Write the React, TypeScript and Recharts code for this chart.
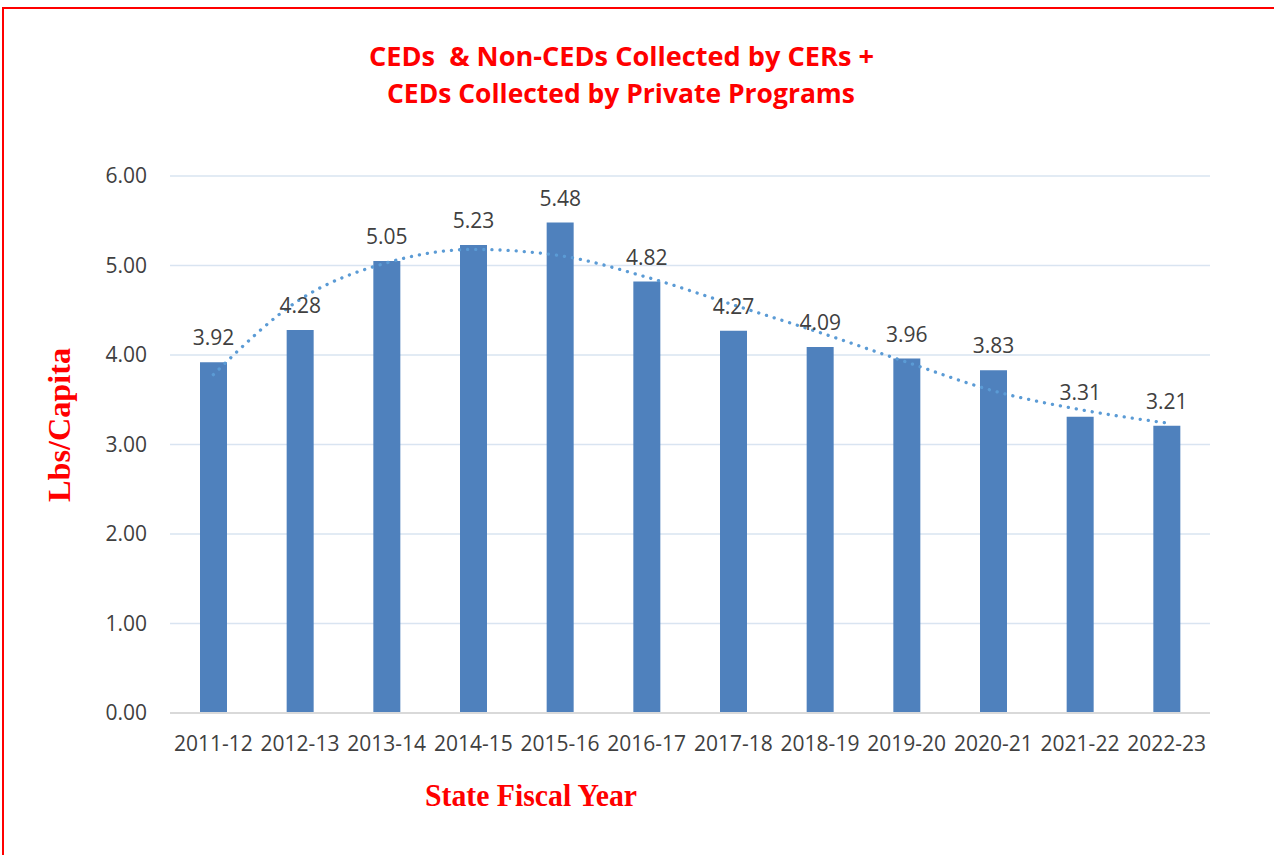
import React from 'react';
import { ComposedChart, Bar, Line, XAxis, YAxis, CartesianGrid, LabelList } from 'recharts';

const years = ['2011-12', '2012-13', '2013-14', '2014-15', '2015-16', '2016-17', '2017-18', '2018-19', '2019-20', '2020-21', '2021-22', '2022-23'];
const lbsPerCapita = [3.92, 4.28, 5.05, 5.23, 5.48, 4.82, 4.27, 4.09, 3.96, 3.83, 3.31, 3.21];
const trendValues = [3.78, 4.62, 5.03, 5.18, 5.11, 4.87, 4.56, 4.25, 3.92, 3.6, 3.39, 3.24];
const yTicks = [0, 1, 2, 3, 4, 5, 6];

const data = years.map((y, i) => ({ year: y, value: lbsPerCapita[i], trend: trendValues[i] }));

const tickFont = { fontFamily: '"Open Sans", sans-serif', fontSize: 21, fill: '#404040' };

export default function App() {
  return (
    <div style={{ position: 'fixed', left: 0, top: 0, width: 1274, height: 855, overflow: 'hidden', background: '#fff' }}>
      <div style={{ position: 'absolute', left: 2, top: 7, width: 1320, height: 920, border: '2px solid #FF0000', boxSizing: 'border-box' }} />
      <div style={{ position: 'absolute', left: 0, top: 0 }}>
        <ComposedChart width={1274} height={855} data={data} margin={{ top: 176, right: 64, bottom: 102, left: 110 }}>
          <CartesianGrid vertical={false} stroke="#D9E4F1" strokeWidth={1.5} />
          <XAxis
            dataKey="year"
            interval={0}
            tickLine={false}
            tickSize={0}
            tickMargin={23}
            height={40}
            axisLine={{ stroke: '#D9D9D9', strokeWidth: 2 }}
            tick={tickFont}
          />
          <YAxis
            domain={[0, 6]}
            ticks={yTicks}
            width={60}
            axisLine={false}
            tickLine={false}
            tickSize={0}
            tickMargin={23}
            tick={tickFont}
            tickFormatter={(v: number) => v.toFixed(2)}
          />
          <Bar dataKey="value" fill="#4F81BD" barSize={27} isAnimationActive={false}>
            <LabelList
              dataKey="value"
              position="top"
              offset={17}
              formatter={(v: number) => v.toFixed(2)}
              style={{ fontFamily: '"Open Sans", sans-serif', fontSize: 21, fill: '#404040' }}
            />
          </Bar>
          <Line
            dataKey="trend"
            type="monotone"
            stroke="#5B9BD5"
            strokeWidth={3.3}
            strokeDasharray="0.1 8"
            strokeLinecap="round"
            dot={false}
            activeDot={false}
            isAnimationActive={false}
          />
        </ComposedChart>
      </div>
      <svg width={1274} height={855} style={{ position: 'absolute', left: 0, top: 0, pointerEvents: 'none' }}>
        <text x={369} y={66} fill="#FF0000" fontFamily='"Open Sans", sans-serif' fontWeight="bold" fontSize={27} textLength={505} lengthAdjust="spacingAndGlyphs" style={{ whiteSpace: 'pre' }}>
          CEDs  &amp; Non-CEDs Collected by CERs +
        </text>
        <text x={387} y={103} fill="#FF0000" fontFamily='"Open Sans", sans-serif' fontWeight="bold" fontSize={27} textLength={468} lengthAdjust="spacingAndGlyphs">
          CEDs Collected by Private Programs
        </text>
        <text x={70} y={425} transform="rotate(-90 70 425)" textAnchor="middle" fill="#FF0000" fontFamily='"Liberation Serif", "DejaVu Serif", serif' fontWeight="bold" fontSize={31} textLength={154} lengthAdjust="spacingAndGlyphs">
          Lbs/Capita
        </text>
        <text x={531} y={806} textAnchor="middle" fill="#FF0000" fontFamily='"Liberation Serif", "DejaVu Serif", serif' fontWeight="bold" fontSize={31} textLength={212} lengthAdjust="spacingAndGlyphs">
          State Fiscal Year
        </text>
      </svg>
    </div>
  );
}
